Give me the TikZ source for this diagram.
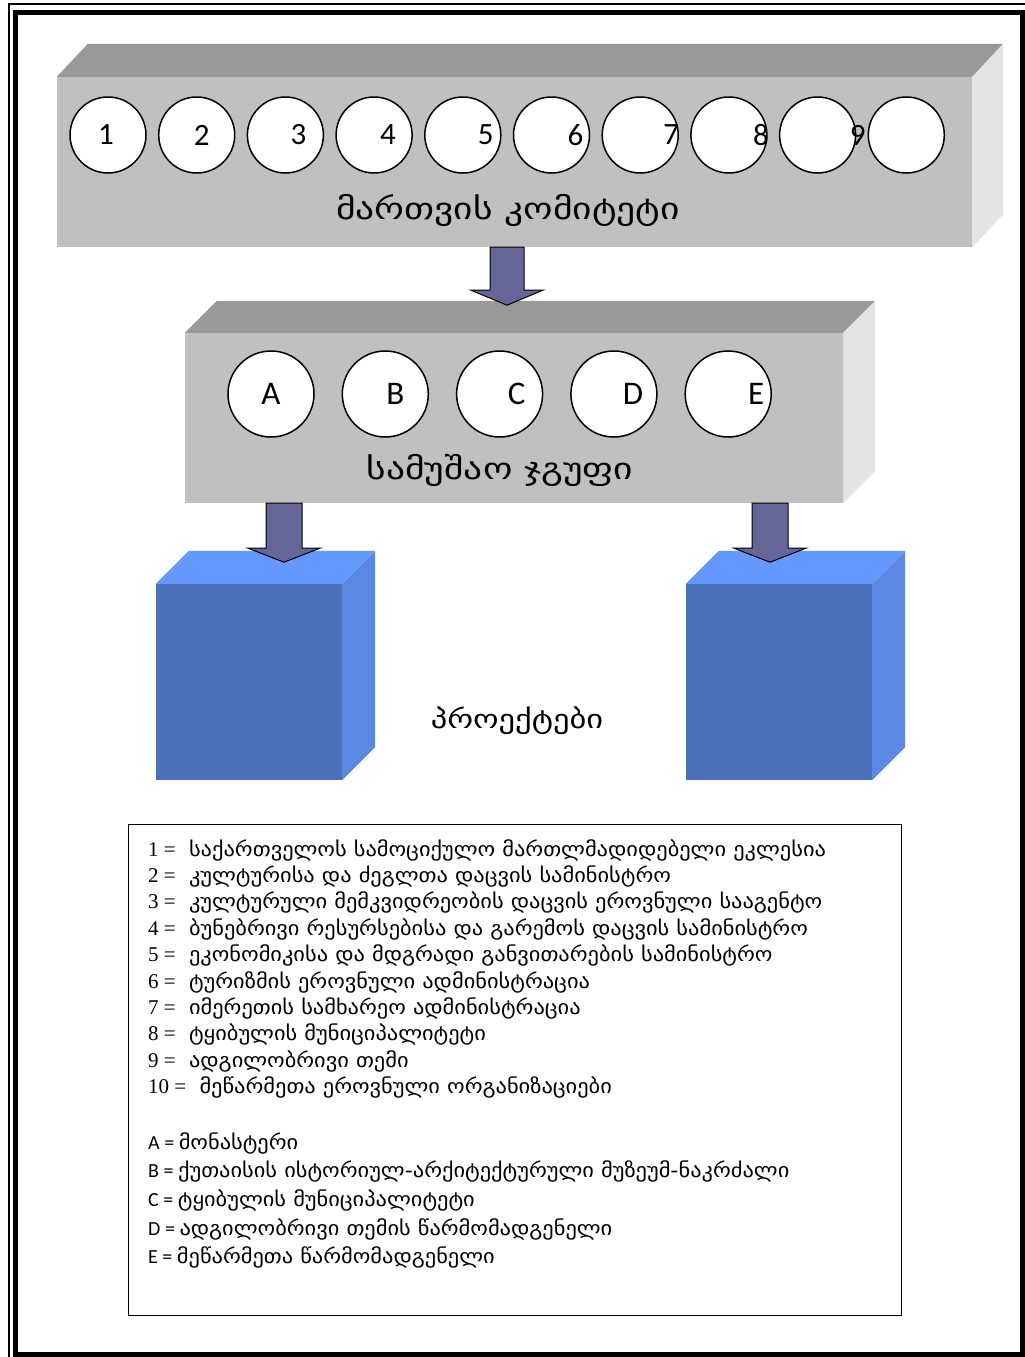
\documentclass[tikz,border=0pt]{standalone}
\usepackage{fontspec}
\setmainfont{Liberation Serif}
\newfontfamily\geo[FakeStretch=1.12]{DejaVu Sans}
\newfontfamily\geowide[FakeStretch=1.25]{DejaVu Sans}
\newfontfamily\calib{Carlito}
\usepackage{tikz}
\usetikzlibrary{positioning,calc}
\definecolor{greyfront}{HTML}{C0C0C0}
\definecolor{greytop}{HTML}{999999}
\definecolor{greyside}{HTML}{E3E3E3}
\definecolor{arrowblue}{HTML}{666699}
\definecolor{bluefront}{HTML}{4A71BA}
\definecolor{bluetop}{HTML}{6699FF}
\definecolor{blueside}{HTML}{5B88E3}

\begin{document}
\begin{tikzpicture}[x=1pt,y=-1pt,node distance=11.2pt,
      circ/.style={draw, circle, fill=white, line width=1.5pt, inner sep=0pt, minimum size=76},
      numlab/.style={font=\calib\fontsize{31}{36}\selectfont},
      letlab/.style={font=\calib\fontsize{33}{38}\selectfont},
      title/.style={font=\geowide\fontsize{30}{36}\selectfont},
      blockarrow/.style={draw=black, fill=arrowblue, line width=1pt},
      keyline/.style={anchor=base west, inner sep=0pt, font=\fontsize{21}{26}\selectfont}]
  \useasboundingbox (0,0) rectangle (1025,1357);
  % page frame
  \draw[line width=1.5pt] (9,1357) -- (9,4) -- (1025,4);
  \draw[line width=5pt] (15,12) rectangle (1022,1354);

  % management committee
  \node[fill=greyfront, minimum width=915, minimum height=170, inner sep=0pt] (ctte) at (514.5,162) {};
  \fill[greytop] (ctte.north west) -- ++(31,-33) -- ($(ctte.north east)+(31,-33)$) -- (ctte.north east) -- cycle;
  \fill[greyside] (ctte.north east) -- ++(31,-33) -- ($(ctte.south east)+(31,-33)$) -- (ctte.south east) -- cycle;
  \node[circ, label={[numlab, xshift=-2]center:1}] (c1) at (108,135) {};
  \node[circ, right = of c1, label={[numlab, xshift=5]center:2}] (c2) {};
  \node[circ, right = of c2, label={[numlab, xshift=13]center:3}] (c3) {};
  \node[circ, right = of c3, label={[numlab, xshift=14]center:4}] (c4) {};
  \node[circ, right = of c4, label={[numlab, xshift=23]center:5}] (c5) {};
  \node[circ, right = of c5, label={[numlab, xshift=24]center:6}] (c6) {};
  \node[circ, right = of c6, label={[numlab, xshift=31]center:7}] (c7) {};
  \node[circ, right = of c7, label={[numlab, xshift=32]center:8}] (c8) {};
  \node[circ, right = of c8, label={[numlab, xshift=40]center:9}] (c9) {};
  \node[circ, right = of c9] (c10) {};
  \node[title] (ctteTitle) at (508,210) {მართვის კომიტეტი};

  % working group
  \node[fill=greyfront, minimum width=658, minimum height=170, inner sep=0pt] (wgroup) at (514,418) {};
  \fill[greytop] (wgroup.north west) -- ++(32,-32) -- ($(wgroup.north east)+(32,-32)$) -- (wgroup.north east) -- cycle;
  \fill[greyside] (wgroup.north east) -- ++(32,-32) -- ($(wgroup.south east)+(32,-32)$) -- (wgroup.south east) -- cycle;
  \node[circ, minimum size=86, label={[letlab]center:A}] (ga) at (271,394) {};
  \node[circ, minimum size=86, right = 26.8pt of ga, label={[letlab, xshift=10]center:B}] (gb) {};
  \node[circ, minimum size=86, right = 26.8pt of gb, label={[letlab, xshift=17]center:C}] (gc) {};
  \node[circ, minimum size=86, right = 26.8pt of gc, label={[letlab, xshift=19]center:D}] (gd) {};
  \node[circ, minimum size=86, right = 26.8pt of gd, label={[letlab, xshift=28]center:E}] (ge) {};
  \node[title] (wgTitle) at (500,470) {სამუშაო ჯგუფი};

  % projects
  \node[fill=bluefront, minimum width=186, minimum height=196, inner sep=0pt] (proj1) at (249,682) {};
  \fill[bluetop] (proj1.north west) -- ++(33,-33) -- ($(proj1.north east)+(33,-33)$) -- (proj1.north east) -- cycle;
  \fill[blueside] (proj1.north east) -- ++(33,-33) -- ($(proj1.south east)+(33,-33)$) -- (proj1.south east) -- cycle;
  \node[fill=bluefront, minimum width=186, minimum height=196, inner sep=0pt] (proj2) at (779,682) {};
  \fill[bluetop] (proj2.north west) -- ++(33,-33) -- ($(proj2.north east)+(33,-33)$) -- (proj2.north east) -- cycle;
  \fill[blueside] (proj2.north east) -- ++(33,-33) -- ($(proj2.south east)+(33,-33)$) -- (proj2.south east) -- cycle;
  \node[font=\geowide\fontsize{26}{30}\selectfont] (projTitle) at (517,721) {პროექტები};

  % arrows
  \draw[blockarrow] ([xshift=-24.5]ctte.south) -- ++(0,43) -- ++(-19,0) -- ++(36,15) -- ++(36,-15) -- ++(-19,0) -- ++(0,-43) -- cycle;
  \draw[blockarrow] ([xshift=-248]wgroup.south) -- ++(0,45) -- ++(-18,0) -- ++(36,14) -- ++(36,-14) -- ++(-18,0) -- ++(0,-45) -- cycle;
  \draw[blockarrow] ([xshift=238]wgroup.south) -- ++(0,45) -- ++(-18,0) -- ++(36,14) -- ++(36,-14) -- ++(-18,0) -- ++(0,-45) -- cycle;

  % key
  \node[draw, line width=1pt, minimum width=773, minimum height=491, inner sep=0pt] (key) at (514.5,1069.5) {};
  \foreach \n/\t [count=\i] in {1/საქართველოს სამოციქულო მართლმადიდებელი ეკლესია,
      2/კულტურისა და ძეგლთა დაცვის სამინისტრო,
      3/კულტურული მემკვიდრეობის დაცვის ეროვნული სააგენტო,
      4/ბუნებრივი რესურსებისა და გარემოს დაცვის სამინისტრო,
      5/ეკონომიკისა და მდგრადი განვითარების სამინისტრო,
      6/ტურიზმის ეროვნული ადმინისტრაცია,
      7/იმერეთის სამხარეო ადმინისტრაცია,
      8/ტყიბულის მუნიციპალიტეტი,
      9/ადგილობრივი თემი,
      10/მეწარმეთა ეროვნული ორგანიზაციები}
    \node[keyline] (num\i) at (148,{856+26.4*(\i-1)}) {\n{} = \hspace{8pt}{\geo\fontsize{20}{26}\selectfont\t}};
  \foreach \n/\t [count=\i] in {A/მონასტერი,
      B/ქუთაისის ისტორიულ-არქიტექტურული მუზეუმ-ნაკრძალი,
      C/ტყიბულის მუნიციპალიტეტი,
      D/ადგილობრივი თემის წარმომადგენელი,
      E/მეწარმეთა წარმომადგენელი}
    \node[keyline, font=\calib\fontsize{20}{24}\selectfont] (let\i) at (148,{1149+28.7*(\i-1)}) {\n{} = {\geo\fontsize{20}{26}\selectfont\t}};
\end{tikzpicture}
\end{document}
